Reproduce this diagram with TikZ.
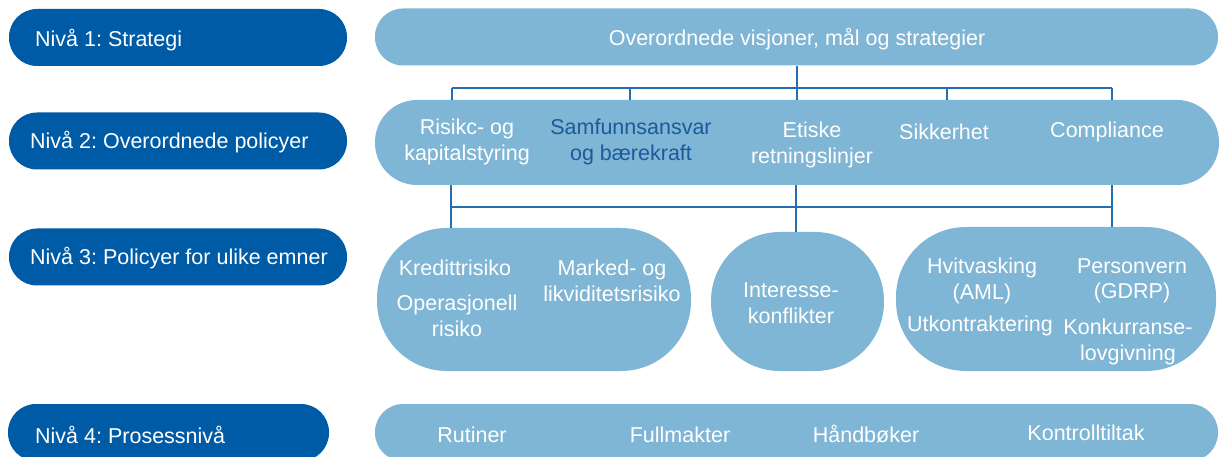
\documentclass[tikz,border=0pt]{standalone}
\usepackage{fontspec}
\setmainfont{Liberation Sans}
\frenchspacing
\definecolor{darkblu}{RGB}{0,91,166}
\definecolor{lightblu}{RGB}{127,181,213}
\definecolor{linkblu}{RGB}{38,110,180}
\definecolor{txtblu}{RGB}{28,90,155}
\tikzset{
  lvlbox/.style={rectangle, fill=darkblu, draw=none, minimum height=57pt, minimum width=338pt, rounded corners=28pt, inner sep=0pt},
  litebox/.style={rectangle, fill=lightblu, draw=none, inner sep=0pt},
  lvltxt/.style={anchor=west, text=white, inner sep=0pt, font=\fontsize{21.5}{25}\selectfont},
  itemtxt/.style={text=white, align=center, inner sep=0pt, font=\fontsize{21.5}{25.5}\selectfont},
  link/.style={draw=linkblu, line width=1.1pt}
}
\begin{document}
\begin{tikzpicture}[x=1pt,y=-1pt]
\useasboundingbox (0,0) rectangle (1219,457);
\clip (0,0) rectangle (1219,457);
% left level boxes
\node[lvlbox] (n1) at (178,37.5) {};
\node[lvlbox] (n2) at (178,141) {};
\node[lvlbox] (n3) at (178,257) {};
\node[lvlbox, minimum width=321pt] (n4) at (168.5,432.5) {};
\node[lvltxt] (t1) at (35,40) {Nivå 1: Strategi};
\node[lvltxt] (t2) at (30,142) {Nivå 2: Overordnede policyer};
\node[lvltxt] (t3) at (30,258) {Nivå 3: Policyer for ulike emner};
\node[lvltxt] (t4) at (35,435) {Nivå 4: Prosessnivå};
% light boxes
\node[litebox, minimum width=843pt, minimum height=57pt, rounded corners=28pt] (top) at (796.5,37) {};
\node[litebox, minimum width=844pt, minimum height=85pt, rounded corners=42pt] (pol) at (797,142.5) {};
\node[litebox, minimum width=314pt, minimum height=143pt, rounded corners=70pt] (p3a) at (534,299.5) {};
\node[litebox, minimum width=173pt, minimum height=139pt, rounded corners=69pt] (p3b) at (797.5,301.5) {};
\node[litebox, minimum width=320pt, minimum height=144pt, rounded corners=70pt] (p3c) at (1056,299) {};
\node[litebox, minimum width=843pt, minimum height=57pt, rounded corners=28pt] (proc) at (796.5,432.5) {};
% connectors level 1 -> 2
\coordinate (j0) at (797,88);
\coordinate (ja) at (452,88);
\coordinate (jb) at (630,88);
\coordinate (jd) at (947,88);
\coordinate (je) at (1112,88);
\draw[link] (top.south -| j0) -- (j0);
\draw[link] (ja) -- (je);
\draw[link] (ja) -- (ja |- pol.north);
\draw[link] (jb) -- (jb |- pol.north);
\draw[link] (j0) -- (j0 |- pol.north);
\draw[link] (jd) -- (jd |- pol.north);
\draw[link] (je) -- (je |- pol.north);
% connectors level 2 -> 3
\coordinate (ka) at (451,207);
\coordinate (kb) at (796,207);
\coordinate (kc) at (1112,207);
\draw[link] (ka) -- (kc);
\draw[link] (ka |- pol.south) -- (ka |- p3a.north);
\draw[link] (kb |- pol.south) -- (kb |- p3b.north);
\draw[link] (kc |- pol.south) -- (kc |- p3c.north);
% texts
\node[itemtxt] (s1) at (797,39) {Overordnede visjoner, mål og strategier};
\node[itemtxt] (a1) at (467,142) {Risikc- og\\kapitalstyring};
\node[itemtxt, text=txtblu] (a2) at (631,142) {Samfunnsansvar\\og bærekraft};
\node[itemtxt] (a3) at (812,145) {Etiske\\retningslinjer};
\node[itemtxt] (a4) at (944,132) {Sikkerhet};
\node[itemtxt] (a5) at (1107,132) {Compliance};
\node[itemtxt] (b1) at (455,268) {Kredittrisiko};
\node[itemtxt] (b2) at (457,316) {Operasjonell\\risiko};
\node[itemtxt] (b3) at (612,281) {Marked- og\\likviditetsrisiko};
\node[itemtxt] (b4) at (791,303) {Interesse-\\konflikter};
\node[itemtxt] (b5) at (982,281) {Hvitvasking\\(AML)};
\node[itemtxt] (b6) at (1132,281) {Personvern\\(GDRP)};
\node[itemtxt] (b7) at (980,326) {Utkontraktering};
\node[itemtxt] (b8) at (1128,342) {Konkurranse-\\lovgivning};
\node[itemtxt] (c1) at (472,435) {Rutiner};
\node[itemtxt] (c2) at (680,435) {Fullmakter};
\node[itemtxt] (c3) at (866,434) {Håndbøker};
\node[itemtxt] (c4) at (1086,433) {Kontrolltiltak};
\end{tikzpicture}
\end{document}
